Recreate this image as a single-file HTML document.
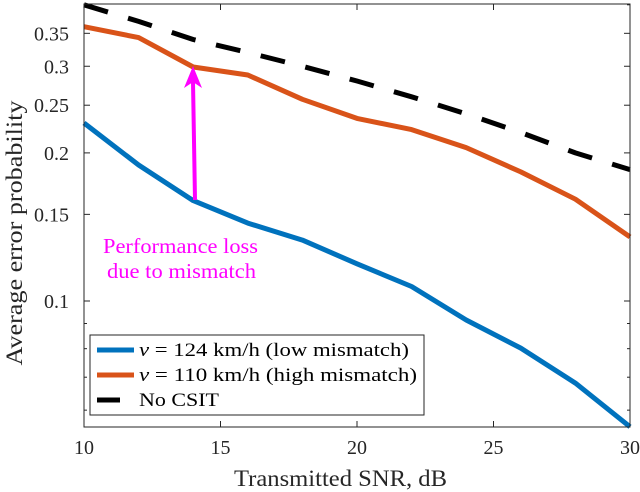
<!DOCTYPE html>
<html><head><meta charset="utf-8"><style>
html,body{margin:0;padding:0;background:#fff;}
svg{display:block;font-family:"Liberation Serif",serif;}
</style></head><body>
<svg id="chart" width="640" height="492" xmlns="http://www.w3.org/2000/svg">
<rect x="84" y="4" width="546" height="423" fill="#fff" stroke="none"/>
<g id="ticks"></g>
<g id="series"></g>
<rect x="84" y="4" width="546" height="423" fill="none" stroke="#262626" stroke-width="1"/>
<line x1="195" y1="200" x2="193" y2="82" stroke="#ff00ff" stroke-width="4"/>
<polygon points="193,66 184,88 193,82 202,88" fill="#ff00ff"/>
<text x="103" y="253" font-size="21" textLength="155" lengthAdjust="spacingAndGlyphs" fill="#ff00ff">Performance loss</text>
<text x="107" y="278" font-size="21" textLength="149" lengthAdjust="spacingAndGlyphs" fill="#ff00ff">due to mismatch</text>
<text transform="translate(22,233) rotate(-90)" text-anchor="middle" font-size="23" textLength="265" lengthAdjust="spacingAndGlyphs" fill="#262626">Average error probability</text>
<text x="234" y="486" font-size="23" textLength="213" lengthAdjust="spacingAndGlyphs" fill="#262626">Transmitted SNR, dB</text>
<g>
<rect x="90" y="335" width="334" height="80" fill="#fff" stroke="#262626" stroke-width="1"/>
<line x1="97" y1="350" x2="134" y2="350" stroke="#0072BD" stroke-width="5"/>
<text x="139" y="356" font-size="19" textLength="270" lengthAdjust="spacingAndGlyphs" fill="#000"><tspan font-style="italic">v</tspan> = 124 km/h (low mismatch)</text>
<line x1="97" y1="375" x2="134" y2="375" stroke="#D95319" stroke-width="5"/>
<text x="139" y="381" font-size="19" textLength="278" lengthAdjust="spacingAndGlyphs" fill="#000"><tspan font-style="italic">v</tspan> = 110 km/h (high mismatch)</text>
<line x1="97" y1="400" x2="120" y2="400" stroke="#000" stroke-width="5"/>
<text x="139" y="406" font-size="19" textLength="80" lengthAdjust="spacingAndGlyphs" fill="#000">No CSIT</text>
</g>
</svg>
<script>
const snr = [10,12,14,16,18,20,22,24,26,28,30];
const lowMismatch = [0.230,0.189,0.160,0.144,0.133,0.119,0.107,0.0915,0.0802,0.0681,0.0555];
const highMismatch = [0.361,0.343,0.299,0.288,0.257,0.235,0.223,0.205,0.183,0.161,0.135];
const noCsit = [0.40,0.37,0.34,0.32,0.30,0.28,0.26,0.24,0.22,0.20,0.185];
const xTicks = [10,15,20,25,30];
const yTicks = [0.1,0.15,0.2,0.25,0.3,0.35];
const yTickLabels = ["0.1","0.15","0.2","0.25","0.3","0.35"];
const yMinor = [0.06,0.07,0.08,0.09,0.4];

const NS="http://www.w3.org/2000/svg";
function xs(v){return 84+(v-10)/20*546;}
function ys(v){return 301-(Math.log10(v)+1)*492;}
function mk(tag,attrs,parent){const e=document.createElementNS(NS,tag);for(const k in attrs)e.setAttribute(k,attrs[k]);parent.appendChild(e);return e;}
const tg=document.getElementById('ticks');
xTicks.forEach(t=>{
  const x=xs(t);
  let l=mk('line',{x1:x,y1:427,x2:x,y2:421,stroke:'#262626'},tg);
  
  
  l=mk('line',{x1:x,y1:4,x2:x,y2:10,stroke:'#262626'},tg);
  
  
  const tx=mk('text',{x:x,y:454,'text-anchor':'middle','font-size':20,fill:'#262626'},tg);
  tx.textContent=t;
  
  
});
yTicks.forEach((t,i)=>{
  const y=ys(t);
  let l=mk('line',{x1:84,y1:y,x2:90,y2:y,stroke:'#262626'},tg);
  
  
  l=mk('line',{x1:630,y1:y,x2:624,y2:y,stroke:'#262626'},tg);
  
  
  const tx=mk('text',{x:69,y:y+7,'text-anchor':'end','font-size':20,fill:'#262626'},tg);
  tx.textContent=yTickLabels[i];
  
  
});
yMinor.forEach(t=>{
  const y=ys(t);
  let l=mk('line',{x1:84,y1:y,x2:87,y2:y,stroke:'#262626'},tg);
  
  
  l=mk('line',{x1:630,y1:y,x2:627,y2:y,stroke:'#262626'},tg);
  
  
});
const sg=document.getElementById('series');
function line(vals,color,dash,name){
  const pts=vals.map((v,i)=>xs(snr[i]).toFixed(1)+','+ys(v).toFixed(1)).join(' ');
  const p=mk('polyline',{points:pts,fill:'none',stroke:color,'stroke-width':5,'stroke-linejoin':'round'},sg);
  if(dash)p.setAttribute('stroke-dasharray',dash);
  
  
}
line(noCsit,'#000','25,21','line-no-csit');
line(highMismatch,'#D95319',null,'line-high-mismatch');
line(lowMismatch,'#0072BD',null,'line-low-mismatch');
</script>
</body></html>
